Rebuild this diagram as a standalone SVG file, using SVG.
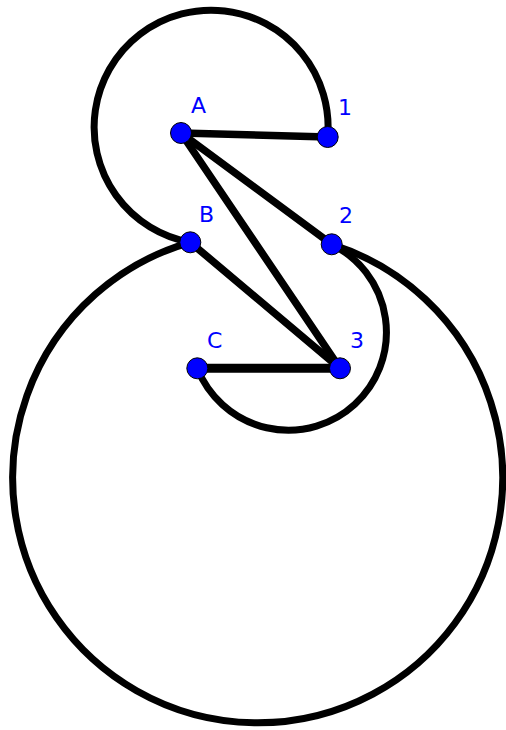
<svg xmlns="http://www.w3.org/2000/svg" width="506" height="730" viewBox="0 0 506 730">
<style>
.arc{fill:none;stroke:#000;stroke-width:7}
.seg{stroke:#000;stroke-width:7.5;stroke-linecap:round}
.pt{fill:#0000ff;stroke:#000;stroke-width:1}
.lbl{font-family:"DejaVu Sans",sans-serif;font-size:22px;fill:#0000ff}
</style>
<rect width="506" height="730" fill="#fff"/>
<g id="connectors">
<path class="arc" d="M 327.7 137 A 117 117 0 1 0 190.3 242.3"/>
<path class="arc" d="M 331.7 244.3 A 245 245 0 1 1 190.3 242.3"/>
<path class="arc" d="M 331.7 244.3 A 98 98 0 1 1 197.3 368.3"/>
<line class="seg" x1="181" y1="133" x2="327.7" y2="137"/>
<line class="seg" x1="181" y1="133" x2="331.7" y2="244.3"/>
<line class="seg" x1="181" y1="133" x2="340" y2="368.3"/>
<line class="seg" x1="190.3" y1="242.3" x2="340" y2="368.3"/>
<line class="seg" x1="197.3" y1="368.3" x2="340" y2="368.3" style="stroke-width:9"/>
</g>
<g id="A"><circle class="pt" cx="181" cy="133" r="10.5"/><text class="lbl" x="191" y="113">A</text></g>
<g id="n1"><circle class="pt" cx="327.7" cy="137" r="10.5"/><text class="lbl" x="338" y="115">1</text></g>
<g id="B"><circle class="pt" cx="190.3" cy="242.3" r="10.5"/><text class="lbl" x="199" y="222">B</text></g>
<g id="n2"><circle class="pt" cx="331.7" cy="244.3" r="10.5"/><text class="lbl" x="339" y="223">2</text></g>
<g id="C"><circle class="pt" cx="197.3" cy="368.3" r="10.5"/><text class="lbl" x="207" y="348">C</text></g>
<g id="n3"><circle class="pt" cx="340" cy="368.3" r="10.5"/><text class="lbl" x="350" y="348">3</text></g>
</svg>
